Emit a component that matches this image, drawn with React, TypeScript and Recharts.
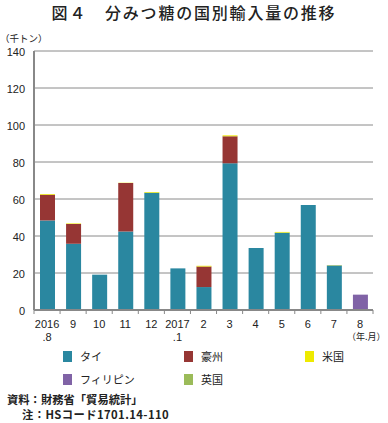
import React from "react";
import { BarChart, Bar, XAxis, YAxis, CartesianGrid } from "recharts";

const months = ["2016\n.8", "9", "10", "11", "12", "2017\n.1", "2", "3", "4", "5", "6", "7", "8"];
const thai = [48.4, 35.8, 19.1, 42.5, 63.4, 22.5, 12.4, 79.3, 33.5, 41.8, 56.8, 24.0, 0];
const aus = [13.9, 10.7, 0, 26.1, 0, 0, 11.1, 14.6, 0, 0, 0, 0, 0];
const usa = [0.4, 0.3, 0, 0.2, 0.4, 0, 0.4, 0.5, 0, 0.4, 0, 0, 0];
const phil = [0, 0, 0, 0, 0, 0, 0, 0, 0, 0, 0, 0, 8.3];
const uk = [0, 0, 0, 0, 0, 0, 0, 0, 0, 0, 0, 0.3, 0];
const yTicks = [0, 20, 40, 60, 80, 100, 120, 140];

const series = [
  { key: "thai", name: "タイ", color: "#2A87A0", values: thai },
  { key: "aus", name: "豪州", color: "#963634", values: aus },
  { key: "usa", name: "米国", color: "#EEEA00", values: usa },
  { key: "phil", name: "フィリピン", color: "#8063A6", values: phil },
  { key: "uk", name: "英国", color: "#9BBB59", values: uk },
];

const data = months.map((m, i) => {
  const row: any = { month: m };
  series.forEach((s) => (row[s.key] = s.values[i]));
  return row;
});

const CHART_W = 388;
const CHART_H = 345;
const M_TOP = 51;
const M_RIGHT = 15;
const Y_W = 34;
const X_H = 35;
const PLOT_BOTTOM = CHART_H - X_H;
const BAND = (CHART_W - M_RIGHT - Y_W) / months.length;

const latin = "'Liberation Sans', Arial, sans-serif";
const cjk = "'Noto Sans CJK JP', 'Liberation Sans', sans-serif";

const XTick = (props: any) => {
  const { x, payload, index } = props;
  const lines = String(payload.value).split("\n");
  return (
    <g>
      <line x1={x - BAND / 2} x2={x - BAND / 2} y1={PLOT_BOTTOM} y2={PLOT_BOTTOM + 4} stroke="#888" strokeWidth={1} />
      {index === months.length - 1 && (
        <line x1={x + BAND / 2} x2={x + BAND / 2} y1={PLOT_BOTTOM} y2={PLOT_BOTTOM + 4} stroke="#888" strokeWidth={1} />
      )}
      {lines.map((l, i) => (
        <text key={i} x={x} y={PLOT_BOTTOM + 14 + i * 13} textAnchor="middle" dominantBaseline="central" fontSize={11} fill="#222" fontFamily={latin}>
          {l}
        </text>
      ))}
    </g>
  );
};

const YTick = (props: any) => {
  const { y, payload } = props;
  return (
    <text x={25} y={y + 1} textAnchor="end" dominantBaseline="central" fontSize={11} fill="#222" fontFamily={latin}>
      {payload.value}
    </text>
  );
};

const legendPos = [
  { left: 63, top: 350 },
  { left: 184, top: 350 },
  { left: 305, top: 350 },
  { left: 63, top: 373 },
  { left: 184, top: 373 },
];

export default function App() {
  return (
    <div style={{ position: "absolute", left: 0, top: 0, width: 388, height: 423, background: "#fff", overflow: "hidden" }}>
      <div style={{ position: "absolute", left: 0, top: 1, width: 388, textAlign: "center", fontFamily: cjk, fontSize: 16, fontWeight: 500, letterSpacing: 1.8, color: "#222", lineHeight: "22px" }}>
        図４　分みつ糖の国別輸入量の推移
      </div>
      <div style={{ position: "absolute", left: 0, top: 31, fontFamily: cjk, fontSize: 9.5, color: "#222", lineHeight: "14px" }}>
        （千トン）
      </div>
      <div style={{ position: "absolute", left: 0, top: 0 }}>
        <BarChart width={CHART_W} height={CHART_H} data={data} margin={{ top: M_TOP, right: M_RIGHT, left: 0, bottom: 0 }} barSize={15}>
          <CartesianGrid vertical={false} stroke="#8a8a8a" strokeWidth={1} />
          <XAxis dataKey="month" height={X_H} interval={0} axisLine={{ stroke: "#888", strokeWidth: 2 }} tickLine={false} tick={<XTick />} />
          <YAxis width={Y_W} domain={[0, 140]} ticks={yTicks} interval={0} axisLine={{ stroke: "#888", strokeWidth: 2 }} tickLine={false} tick={<YTick />} />
          {series.map((s) => (
            <Bar key={s.key} dataKey={s.key} name={s.name} stackId="a" fill={s.color} isAnimationActive={false} />
          ))}
        </BarChart>
      </div>
      <div style={{ position: "absolute", left: 347, top: 330, fontFamily: cjk, fontSize: 9, color: "#222", lineHeight: "14px", whiteSpace: "nowrap" }}>
        （年.月）
      </div>
      {series.map((s, i) => (
        <div key={s.key} style={{ position: "absolute", left: legendPos[i].left, top: legendPos[i].top, display: "flex", alignItems: "center", fontFamily: cjk, fontSize: 11, color: "#222", lineHeight: "12px" }}>
          <div style={{ width: 9, height: 11, background: s.color, marginRight: 8 }} />
          <span>{s.name}</span>
        </div>
      ))}
      <div style={{ position: "absolute", left: 7, top: 392, fontFamily: cjk, fontSize: 11.3, fontWeight: 700, color: "#222", lineHeight: "15px", whiteSpace: "nowrap" }}>
        資料：財務省「貿易統計」
      </div>
      <div style={{ position: "absolute", left: 22, top: 407, fontFamily: cjk, fontSize: 11.3, fontWeight: 700, letterSpacing: 0.4, color: "#222", lineHeight: "15px", whiteSpace: "nowrap" }}>
        注：HSコード1701.14-110
      </div>
    </div>
  );
}
